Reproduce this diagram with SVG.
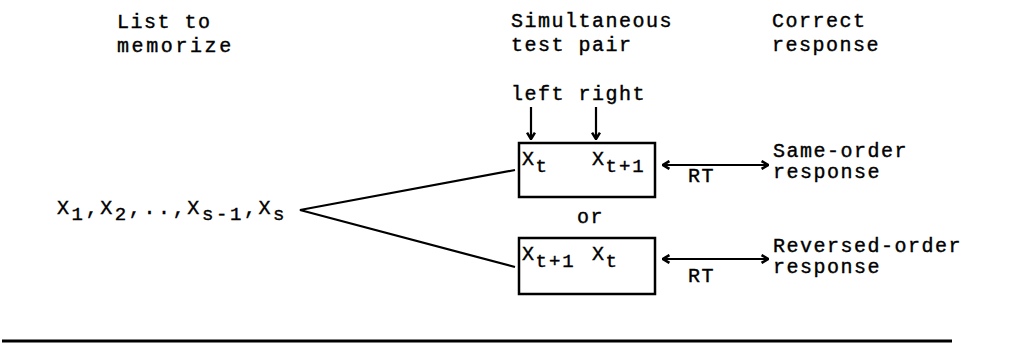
<svg xmlns="http://www.w3.org/2000/svg" width="1030" height="356" viewBox="0 0 1030 356">
<defs>
<style>
text{font-family:"Liberation Mono","Courier New",monospace;font-size:20px;letter-spacing:1.5px;fill:#000;stroke:#000;stroke-width:0.4}
.sub{font-size:19px;letter-spacing:2px}
.wide{letter-spacing:2.6px}
.ln{stroke:#000;stroke-width:2.2;fill:none}
.box{stroke:#000;stroke-width:2.5;fill:none}
</style>
<marker id="ah" viewBox="0 0 10 10" refX="8.5" refY="5" markerWidth="4.5" markerHeight="4.5" orient="auto-start-reverse" markerUnits="strokeWidth">
<path d="M2,1 L8.5,5 L2,9" fill="none" stroke="#000" stroke-width="2.6"/>
</marker>
</defs>
<rect width="1030" height="356" fill="#fff"/>
<g id="headers">
<text x="117" y="28">List to</text>
<text x="117" y="52" class="wide">memorize</text>
<text x="511" y="27">Simultaneous</text>
<text x="511" y="51">test pair</text>
<text x="772" y="27">Correct</text>
<text x="772" y="51">response</text>
</g>
<g id="list">
<text x="57" y="214" class="wide">X<tspan class="sub wide" dy="6">1</tspan><tspan dy="-6">,X</tspan><tspan class="sub wide" dy="6">2</tspan><tspan dy="-6">,..,X</tspan><tspan class="sub wide" dy="6">s-1</tspan><tspan dy="-6">,X</tspan><tspan class="sub wide" dy="6">s</tspan></text>
</g>
<g id="labels">
<text x="511" y="100">left right</text>
<text x="577" y="223">or</text>
</g>
<g id="pair1">
<rect class="box" x="519" y="143" width="136" height="54"/>
<text x="522" y="165">X<tspan class="sub" dy="7">t</tspan></text>
<text x="592" y="165">X<tspan class="sub" dy="7">t+1</tspan></text>
</g>
<g id="pair2">
<rect class="box" x="519" y="238" width="136" height="56"/>
<text x="522" y="260">X<tspan class="sub" dy="7">t+1</tspan></text>
<text x="592" y="260">X<tspan class="sub" dy="7">t</tspan></text>
</g>
<g id="resp1">
<text x="773" y="157">Same-order</text>
<text x="773" y="178">response</text>
</g>
<g id="resp2">
<text x="773" y="252">Reversed-order</text>
<text x="773" y="273">response</text>
</g>
<g id="connectors">
<path class="ln" d="M515,170 L300,210 L515,267"/>
<line class="ln" x1="531" y1="107" x2="531" y2="139" marker-end="url(#ah)"/>
<line class="ln" x1="596" y1="107" x2="596" y2="139" marker-end="url(#ah)"/>
<line class="ln" x1="663" y1="165" x2="768" y2="165" marker-start="url(#ah)" marker-end="url(#ah)"/>
<line class="ln" x1="663" y1="259" x2="768" y2="259" marker-start="url(#ah)" marker-end="url(#ah)"/>
<text x="688" y="182">RT</text>
<text x="688" y="282">RT</text>
<line x1="2" y1="341" x2="952" y2="341" stroke="#000" stroke-width="3"/>
</g>
</svg>
